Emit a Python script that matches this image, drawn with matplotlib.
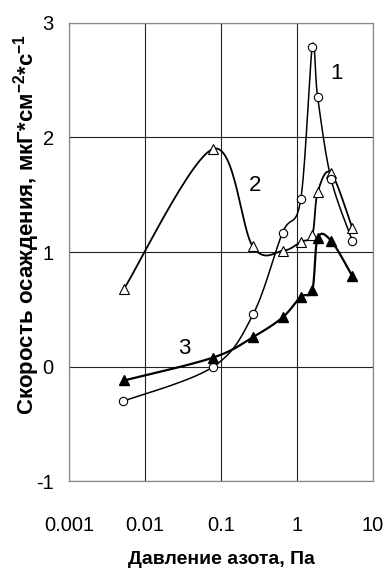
import numpy as np
import matplotlib
matplotlib.use('Agg')
import matplotlib.pyplot as plt

# pressure, Pa
p1 = [0.0052, 0.079, 0.266, 0.646, 1.12, 1.59, 1.87, 2.8, 5.34]
v1 = [-0.30, 0.00, 0.46, 1.17, 1.46, 2.79, 2.35, 1.64, 1.10]

p2 = [0.0053, 0.079, 0.261, 0.646, 1.13, 1.59, 1.87, 2.8, 5.34]
v2 = [0.68, 1.90, 1.05, 1.01, 1.09, 1.15, 1.52, 1.69, 1.21]

p3 = [0.0053, 0.079, 0.266, 0.646, 1.12, 1.59, 1.87, 2.8, 5.34]
v3 = [-0.12, 0.08, 0.26, 0.43, 0.61, 0.67, 1.12, 1.10, 0.79]

xticks = [0.001, 0.01, 0.1, 1, 10]
xticklabels = ['0.001', '0.01', '0.1', '1', '10']
yticks = [-1, 0, 1, 2, 3]

plt.rcParams['font.family'] = ['Liberation Sans', 'DejaVu Sans']
plt.rcParams['axes.unicode_minus'] = False
plt.rcParams['mathtext.fontset'] = 'custom'
plt.rcParams['mathtext.rm'] = 'Liberation Sans'
plt.rcParams['mathtext.bf'] = 'Liberation Sans:bold'


def smooth(ax, xs, ys, n=30):
    # catmull-rom through the points, done in screen space like a spreadsheet "smoothed line"
    pts = ax.transData.transform(np.column_stack([xs, ys]))
    pts = np.vstack([pts[0], pts, pts[-1]])
    out = []
    for i in range(1, len(pts) - 2):
        p0, p1_, p2_, p3_ = pts[i - 1], pts[i], pts[i + 1], pts[i + 2]
        c1 = p1_ + (p2_ - p0) / 6
        c2 = p2_ - (p3_ - p1_) / 6
        t = np.linspace(0, 1, n)[:, None]
        seg = ((1 - t) ** 3) * p1_ + 3 * ((1 - t) ** 2) * t * c1 + 3 * (1 - t) * t ** 2 * c2 + t ** 3 * p2_
        out.append(seg if i == 1 else seg[1:])
    out = np.vstack(out)
    return ax.transData.inverted().transform(out)


fig = plt.figure(figsize=(3.86, 5.71), dpi=100)
ax = fig.add_axes([69 / 386, 1 - 481.4 / 571, 304 / 386, (481.4 - 22.7) / 571])
ax.set_xscale('log')
ax.set_xlim(0.001, 10)
ax.set_ylim(-1, 3)

ax.set_xticks(xticks)
ax.set_xticklabels(xticklabels)
ax.set_yticks(yticks)
ax.minorticks_off()
ax.tick_params(length=0, labelsize=14.5)
ax.tick_params(axis='x', pad=25)
ax.tick_params(axis='y', pad=11)
ax.grid(True, color='#222222', lw=0.8)
ax.set_axisbelow(True)
for s in ax.spines.values():
    s.set_color('#888888')
    s.set_linewidth(0.9)

c1 = smooth(ax, p1, v1)
c2 = smooth(ax, p2, v2)
c3 = smooth(ax, p3, v3)

ax.plot(c2[:, 0], c2[:, 1], color='black', lw=1.3, zorder=3)
ax.plot(p2, v2, ls='none', marker='^', ms=7.5, mfc='white', mec='black', mew=0.8, zorder=4)
ax.plot(c1[:, 0], c1[:, 1], color='black', lw=1.1, zorder=3)
ax.plot(p1, v1, ls='none', marker='o', ms=6, mfc='white', mec='black', mew=0.8, zorder=5)
ax.plot(c3[:, 0], c3[:, 1], color='black', lw=1.6, zorder=3)
ax.plot(p3, v3, ls='none', marker='^', ms=7.5, mfc='black', mec='black', zorder=5)

ax.text(3.33, 2.56, '1', fontsize=16, ha='center', va='center')
ax.text(0.28, 1.58, '2', fontsize=16, ha='center', va='center')
ax.text(0.0326, 0.16, '3', fontsize=16, ha='center', va='center')

fig.text(221 / 386, 1 - 559 / 571, 'Давление азота, Па', fontsize=14, fontweight='bold',
         ha='center', va='center')
fig.text(27 / 386, 1 - 224 / 571,
         'Скорость осаждения, мкГ*см$^{\\mathbf{-2}}$*с$^{\\mathbf{-1}}$',
         fontsize=16, fontweight='bold', rotation=90, ha='center', va='center')

fig.savefig('out.png', dpi=100)
